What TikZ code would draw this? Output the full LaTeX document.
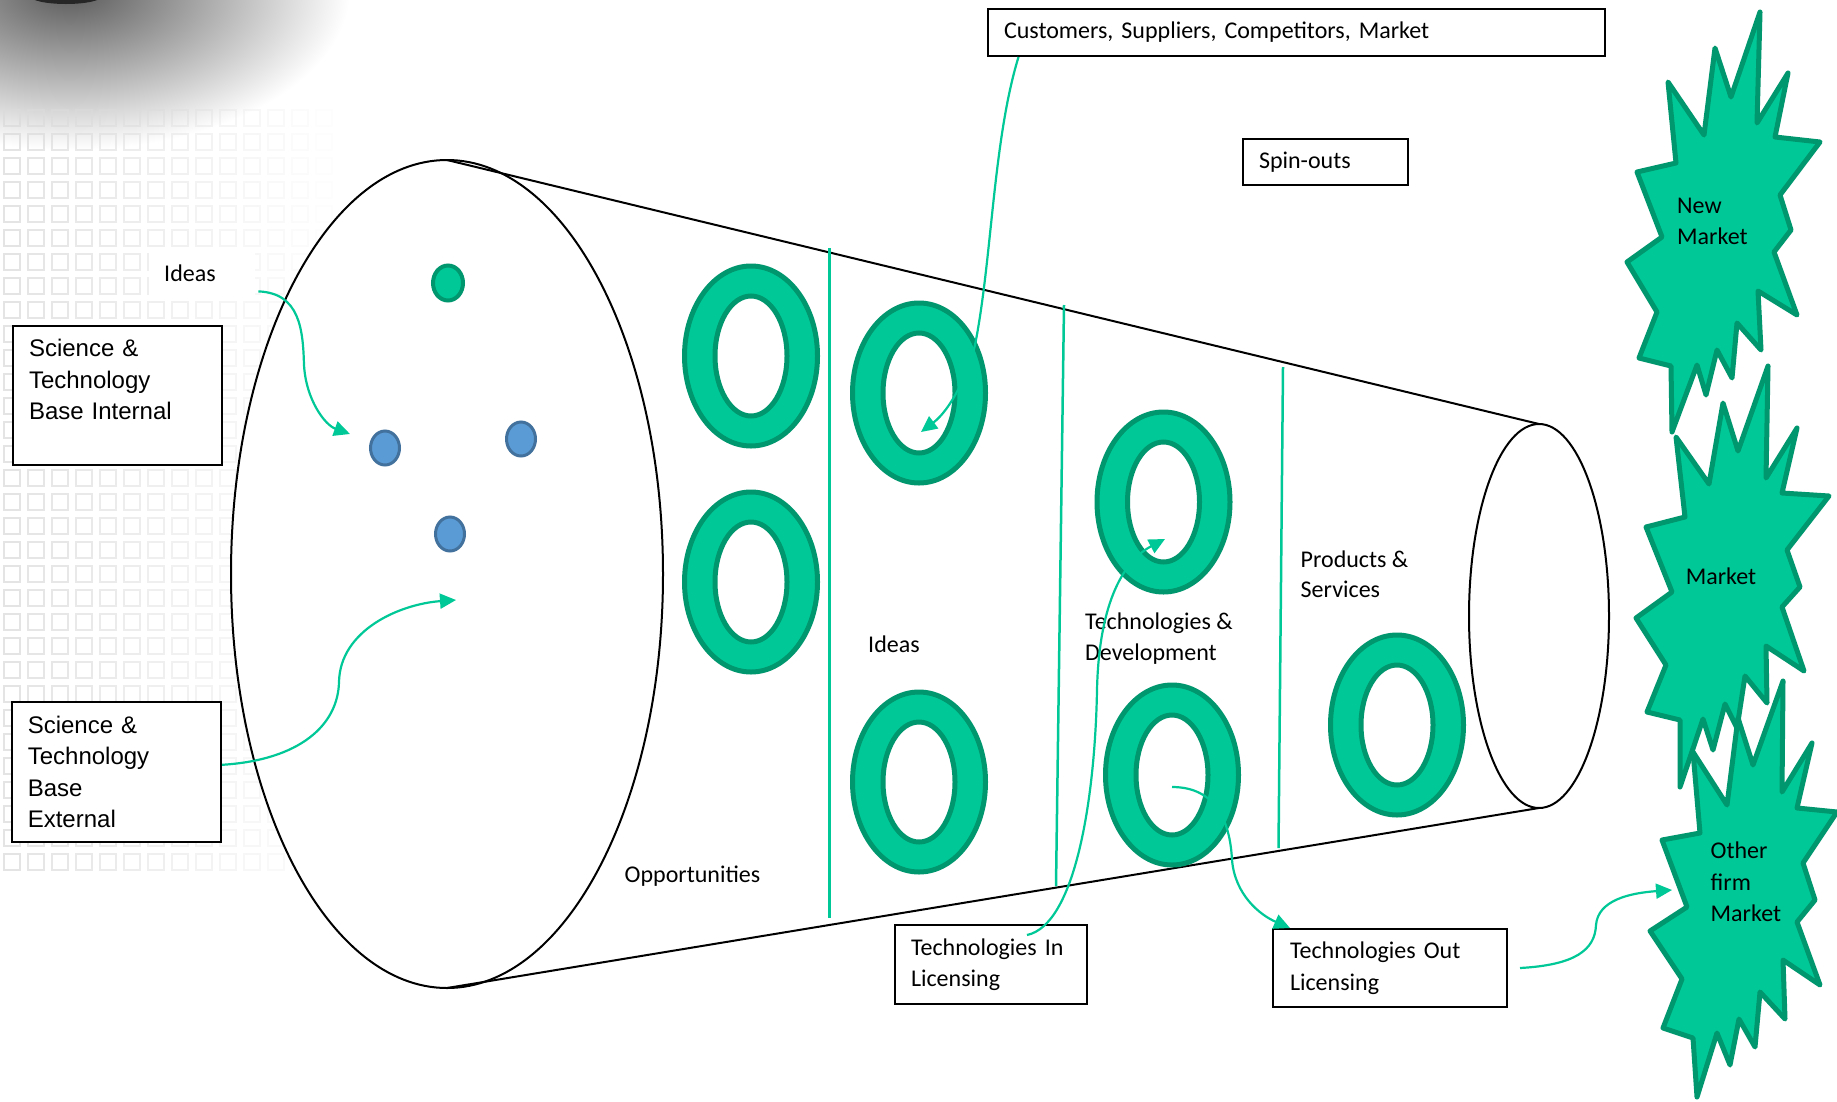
\documentclass[tikz,border=0pt]{standalone}
\usepackage{fontspec}
\setmainfont{Carlito}
\newfontfamily\arialf{Liberation Sans}
\usetikzlibrary{arrows.meta}
\definecolor{tealfill}{RGB}{0,201,151}
\definecolor{tealline}{RGB}{0,150,110}
\definecolor{arrowc}{RGB}{0,200,150}
\definecolor{bluefill}{RGB}{91,155,213}
\definecolor{blueline}{RGB}{65,113,156}
\begin{document}
\begin{tikzpicture}[x=1pt,y=-1pt,
  box/.style={draw=black, line width=2pt, fill=white, inner ysep=0pt, align=left, anchor=north west,
    font=\fontsize{24}{31.5}\selectfont},
  abox/.style={box, font=\arialf\fontsize{24}{31.5}\selectfont},
  lbl/.style={inner sep=0pt, align=left, anchor=west, font=\fontsize{24}{30.5}\selectfont},
  starlbl/.style={inner sep=0pt, align=left, anchor=west, font=\fontsize{24}{31.5}\selectfont},
  ringsty/.style={fill=tealfill, draw=tealline, line width=5pt, even odd rule},
  starsty/.style={fill=tealfill, draw=tealline, line width=5pt, line join=round},
  bluedot/.style={fill=bluefill, draw=blueline, line width=3pt},
  conn/.style={draw=arrowc, line width=2.2pt, -{Triangle[length=16pt,width=15pt]}},
  divider/.style={draw=arrowc, line width=2.5pt},
  cone/.style={draw=black, line width=2pt},
]
\useasboundingbox (0,0) rectangle (1837,1101);
\clip (0,0) rectangle (1837,1101);
\fill[white] (0,0) rectangle (1837,1101);

% background decoration
\shade[inner color=black!65, outer color=white] (70,-10) ellipse (280 and 160);
\foreach \i in {0,...,13}{\foreach \j in {0,...,31}{
  \pgfmathsetmacro\op{max(0,0.75-0.055*\i)}
  \draw[black!14, line width=1.2pt, opacity=\op] (4+24*\i,110+24*\j) rectangle ++(16,16);
}}
\fill[black!85] (66,-4) ellipse (36 and 8);

% cone
\fill[white] (447,160) -- (1539,424) -- (1539,808) -- (447,988) -- cycle;
\fill[white] (447,574) ellipse (216 and 414);
\draw[cone] (447,160) -- (1539,424);
\draw[cone] (447,988) -- (1539,808);
\draw[cone] (447,574) ellipse (216 and 414);
\draw[cone] (1539,616) ellipse (70 and 192);

% dividers
\draw[divider] (829.5,248) -- (829.5,918);
\draw[divider] (1064,305) -- (1056,886);
\draw[divider] (1283,367) -- (1278.5,848);

% rings
\foreach \cx/\cy in {751/356, 751/582, 919/393, 919/782, 1163.5/502, 1172/775, 1397/725}{
  \path[ringsty] (\cx,\cy) ellipse (66.5 and 90) (\cx,\cy) ellipse (36 and 60);
}

% dots
\path[fill=tealfill, draw=tealline, line width=4pt] (448,283) ellipse (15 and 17.5);
\path[bluedot] (385,448) ellipse (14.5 and 17);
\path[bluedot] (521,439) ellipse (14.5 and 17);
\path[bluedot] (450,534) ellipse (14.5 and 17);

% labels inside cone
\node[lbl] (opp) at (624.5,876) {Opportunities};
\node[lbl] (ideasMid) at (868,644) {Ideas};
\node[lbl] (techdev) at (1085,638.5) {Technologies \&\\Development};
\node[lbl] (prodserv) at (1300.5,574) {Products \&\\Services};

% boxes
\node[fill=white, inner xsep=15pt, inner ysep=0pt, text width=76pt, minimum height=46.5pt, align=left,
  anchor=north west, font=\fontsize{24}{30.5}\selectfont] (ideasLbl) at (149,249.5) {Ideas};
\node[abox, text width=177pt, inner xsep=16.3pt, minimum height=139.5pt] (stint) at (11.7,324.5)
  {Science \&\\Technology\\Base Internal\\\mbox{}};
\node[abox, text width=177pt, inner xsep=16.3pt, minimum height=140.4pt] (stext) at (10.5,700.6)
  {Science \&\\Technology\\Base\\External};
\node[box, text width=584.5pt, inner xsep=16.5pt, minimum height=47pt] (cust) at (986.5,8)
  {Customers, Suppliers, Competitors, Market};
\node[box, text width=133pt, inner xsep=16pt, minimum height=46pt] (spin) at (1242,138) {Spin-outs};
\node[box, text width=160pt, inner xsep=16pt, minimum height=79pt] (techin) at (894,924)
  {Technologies In\\Licensing};
\node[box, text width=199.5pt, inner xsep=17pt, minimum height=78pt] (techout) at (1272,928)
  {Technologies Out\\Licensing};

% stars
\draw[starsty] (1760,12) -- (1757,123) -- (1788,73) -- (1775,137) -- (1820,142) -- (1780,195)
  -- (1791,230) -- (1774,252) -- (1797,315) -- (1758,291) -- (1761,350) -- (1737,323)
  -- (1732,378) -- (1717,350) -- (1706,395) -- (1697,365) -- (1672,432) -- (1671,366)
  -- (1639,358) -- (1657,312) -- (1627,262) -- (1662,237) -- (1637,172) -- (1676,163)
  -- (1668,82) -- (1704,135) -- (1715,48) -- (1731,97) -- cycle;
\draw[starsty] (1676,437) -- (1709,484) -- (1723,403) -- (1738,451) -- (1768,366) -- (1766,478)
  -- (1797,428) -- (1782,493) -- (1829,496) -- (1787,550) -- (1800,587) -- (1782,607)
  -- (1804,671) -- (1766,646) -- (1767,703) -- (1745,676) -- (1737,728) -- (1725,704)
  -- (1713,750) -- (1703,719) -- (1680,787) -- (1680,720) -- (1647,712) -- (1666,665)
  -- (1636,618) -- (1672,592) -- (1646,527) -- (1685,517) -- cycle;
\draw[starsty] (1693,752) -- (1727,805) -- (1738,718) -- (1753,765) -- (1783,681) -- (1782,792)
  -- (1812,743) -- (1797,808) -- (1837,812) -- (1803,863) -- (1815,900) -- (1797,922)
  -- (1820,985) -- (1783,960) -- (1785,1019) -- (1760,992) -- (1755,1047) -- (1739,1019)
  -- (1730,1065) -- (1717,1033) -- (1697,1097) -- (1693,1038) -- (1663,1028) -- (1682,979)
  -- (1650,931) -- (1687,907) -- (1662,840) -- (1700,833) -- cycle;
\node[starlbl] (newmkt) at (1677,221.5) {New\\Market};
\node[starlbl, anchor=center] (mkt) at (1721,576) {Market};
\node[starlbl] (othmkt) at (1710.5,882) {Other\\firm\\Market};

% connector end points
\coordinate (ideaTip) at (350,434);
\coordinate (extTip) at (456,600);
\coordinate (bTip) at (921,432);
\coordinate (eTip) at (1165,539);
\coordinate (fStart) at (1172,787);
\coordinate (otherTip) at (1672,890);

% connectors
\draw[conn] ([xshift=3pt,yshift=5pt]ideasLbl.south east) .. controls (300,293) and (303,330) .. (304,365)
  .. controls (306,400) and (325,425) .. (ideaTip);
\draw[conn] ([yshift=7pt]stext.east) .. controls (300,760) and (338,725) .. (339,682)
  .. controls (340,630) and (400,604) .. (extTip);
\draw[conn] ([xshift=32pt]cust.south west) .. controls (993,140) and (992,260) .. (975,345)
  .. controls (968,375) and (950,410) .. (bTip);
\draw[conn] ([xshift=133pt,yshift=-11pt]techin.north west) .. controls (1075,925) and (1095,800) .. (1097,690)
  .. controls (1099,600) and (1125,560) .. (eTip);
\draw[conn] (fStart) .. controls (1215,787) and (1230,820) .. (1232,860)
  .. controls (1235,895) and (1260,915) .. ([xshift=18pt]techout.north west);
\draw[conn] ([xshift=12.5pt]techout.east) .. controls (1575,965) and (1595,950) .. (1596,925)
  .. controls (1598,900) and (1630,893) .. (otherTip);
\end{tikzpicture}
\end{document}
